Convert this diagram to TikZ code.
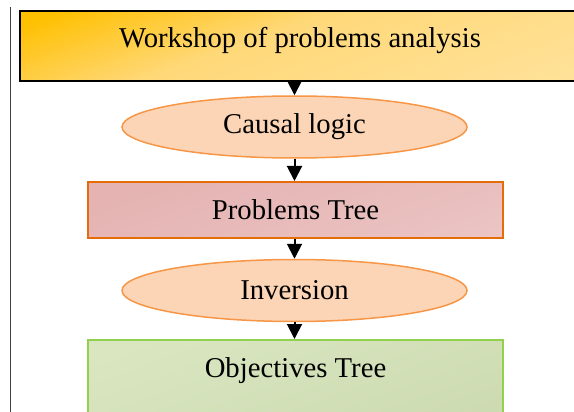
\documentclass[tikz,border=0pt]{standalone}
\usepackage{fontspec}
\setmainfont{Liberation Serif}
\usepackage{tikz}
\usetikzlibrary{arrows.meta,shapes}
\definecolor{wsdark}{HTML}{FFC000}
\definecolor{wsmid}{HTML}{FFD878}
\definecolor{wslight}{HTML}{FFF1CC}
\definecolor{ellfill}{HTML}{FBD5B5}
\definecolor{elldraw}{HTML}{F79646}
\definecolor{probdark}{HTML}{E4B3B2}
\definecolor{problight}{HTML}{F1D3D2}
\definecolor{probdraw}{HTML}{E46C0A}
\definecolor{objlight}{HTML}{D9E6C0}
\definecolor{objdark}{HTML}{C5D3A8}
\definecolor{objdraw}{HTML}{92D050}
% diagonal fills (top = top left corner)
\pgfdeclareverticalshading{wsshade}{100bp}{color(0bp)=(wslight); color(37bp)=(wslight); color(52.6bp)=(wsmid); color(56.5bp)=(wsdark); color(100bp)=(wsdark)}
\pgfdeclareverticalshading{probshade}{100bp}{color(0bp)=(problight); color(43.5bp)=(problight); color(56.5bp)=(probdark); color(100bp)=(probdark)}
\pgfdeclareverticalshading{objshade}{100bp}{color(0bp)=(objdark); color(43.5bp)=(objdark); color(56.5bp)=(objlight); color(100bp)=(objlight)}

\begin{document}
\begin{tikzpicture}[every node/.style={font=\fontsize{28.7pt}{34pt}\selectfont},
  diagfill/.style={path picture={\shade[shading=#1,shading angle=20,shift={(path picture bounding box.north west)}] (-565.8pt,-694pt) rectangle (634.2pt,506pt);}},
  stepellipse/.style={ellipse,draw=elldraw,line width=1.5pt,fill=ellfill,minimum width=345pt,minimum height=62pt,inner sep=0pt},
  treebox/.style={rectangle,line width=2pt,minimum width=415pt,minimum height=56pt},
  flowarrow/.style={-{Triangle[length=15pt,width=15pt]},line width=2pt}]
% Page
\clip (0pt,0pt) rectangle (574pt,-412pt);
\draw [black!75,line width=1pt] (10.5pt,-7pt) -- (10.5pt,-412pt);

\node (WS) at (300pt,-46pt)[draw=black,line width=1.5pt,diagfill=wsshade,minimum width=560pt,minimum height=70pt,text depth=17pt] {Workshop of problems analysis};
\node (CL) at (294.5pt,-127pt)[stepellipse] {Causal logic\hspace{36pt}};
\node (PT) at (295.5pt,-210pt)[treebox,draw=probdraw,diagfill=probshade] {Problems Tree};
\node (INV) at (294.5pt,-290.5pt)[stepellipse] {Inversion\hspace{14pt}};
\node (OT) at (295.5pt,-339pt)[treebox,anchor=north,draw=objdraw,diagfill=objshade,minimum height=90pt,text height=20pt,text depth=36pt] {Objectives Tree};

\draw [flowarrow] (WS.south -| CL.north) -- (CL.north);
\draw [flowarrow] (CL.south) -- (CL.south |- PT.north);
\draw [flowarrow] (PT.south -| INV.north) -- (INV.north);
\draw [flowarrow] (INV.south) -- (INV.south |- OT.north);

\end{tikzpicture}
\end{document}
